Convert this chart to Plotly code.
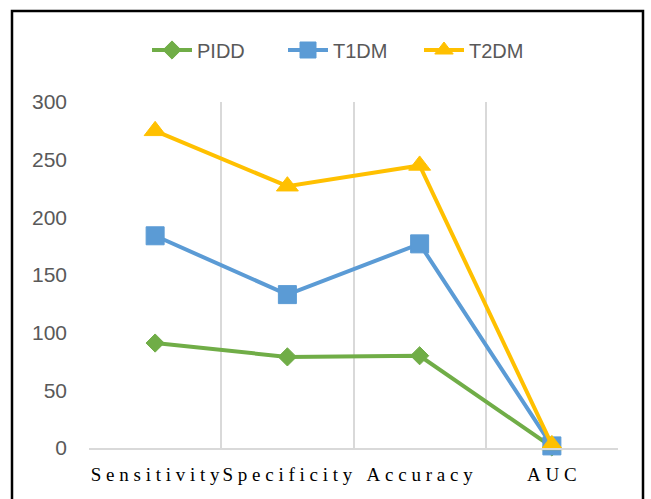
import plotly.graph_objects as go

categories = ["Sensitivity", "Specificity", "Accuracy", "AUC"]
pidd = [91, 79, 80, 0.9]
t1dm = [184, 133, 177, 1.8]
t2dm = [275, 227, 245, 2.7]
y_ticks = [0, 50, 100, 150, 200, 250, 300]

GREEN = "#70AD47"
BLUE = "#5B9BD5"
GOLD = "#FFC000"

# plot-area placement in pixels
W, H = 651, 499
L, R, T, B = 89, 33, 102, 51
pw, ph = W - L - R, H - T - B


def spaced(s, gap="\u2005"):
    return gap.join(s)


fig = go.Figure()
series = [
    ("PIDD", pidd, GREEN, "diamond", 14),
    ("T1DM", t1dm, BLUE, "square", 18),
    ("T2DM", t2dm, GOLD, "triangle-up", 19),
]
for name, vals, col, sym, sz in series:
    fig.add_trace(go.Scatter(
        x=categories, y=vals, name=name, mode="lines+markers",
        line=dict(color=col, width=4),
        marker=dict(symbol=sym, size=sz, color=col, line=dict(color=col, width=1)),
        cliponaxis=False,
    ))


def px_to_paper_x(px):
    return (px - L) / pw


def px_to_paper_y(py):
    return (H - B - py) / ph


# outer black frame around the chart
fig.add_shape(
    type="rect", xref="paper", yref="paper",
    x0=px_to_paper_x(12), x1=px_to_paper_x(643),
    y0=px_to_paper_y(520), y1=px_to_paper_y(11),
    line=dict(color="black", width=2.5), fillcolor="rgba(0,0,0,0)",
    layer="above",
)

fig.update_layout(
    width=W, height=H,
    margin=dict(l=L, r=R, t=T, b=B, pad=0, autoexpand=False),
    paper_bgcolor="white", plot_bgcolor="white",
    showlegend=True,
    legend=dict(
        orientation="h", x=px_to_paper_x(147), y=px_to_paper_y(50),
        xanchor="left", yanchor="middle",
        font=dict(family="Liberation Sans", size=20, color="#595959"),
        itemwidth=40, entrywidth=81, bgcolor="rgba(0,0,0,0)",
    ),
    xaxis=dict(
        type="category", range=[-0.5, 3.5],
        tickmode="array", tickvals=categories,
        ticktext=[spaced(c) for c in categories],
        tickson="boundaries", ticks="", tickangle=0, automargin=False,
        showgrid=True, gridcolor="#D9D9D9", gridwidth=2,
        showline=True, linecolor="#D9D9D9", linewidth=2,
        tickfont=dict(family="Liberation Serif", size=19, color="black"),
        ticklabelstandoff=8,
        zeroline=False,
    ),
    yaxis=dict(
        range=[0, 300], tickmode="array", tickvals=y_ticks,
        showgrid=False, zeroline=False, showline=False, ticks="",
        automargin=False,
        tickfont=dict(family="Liberation Sans", size=21, color="#595959"),
        ticklabelstandoff=21,
    ),
)

fig.write_html("out.html")
